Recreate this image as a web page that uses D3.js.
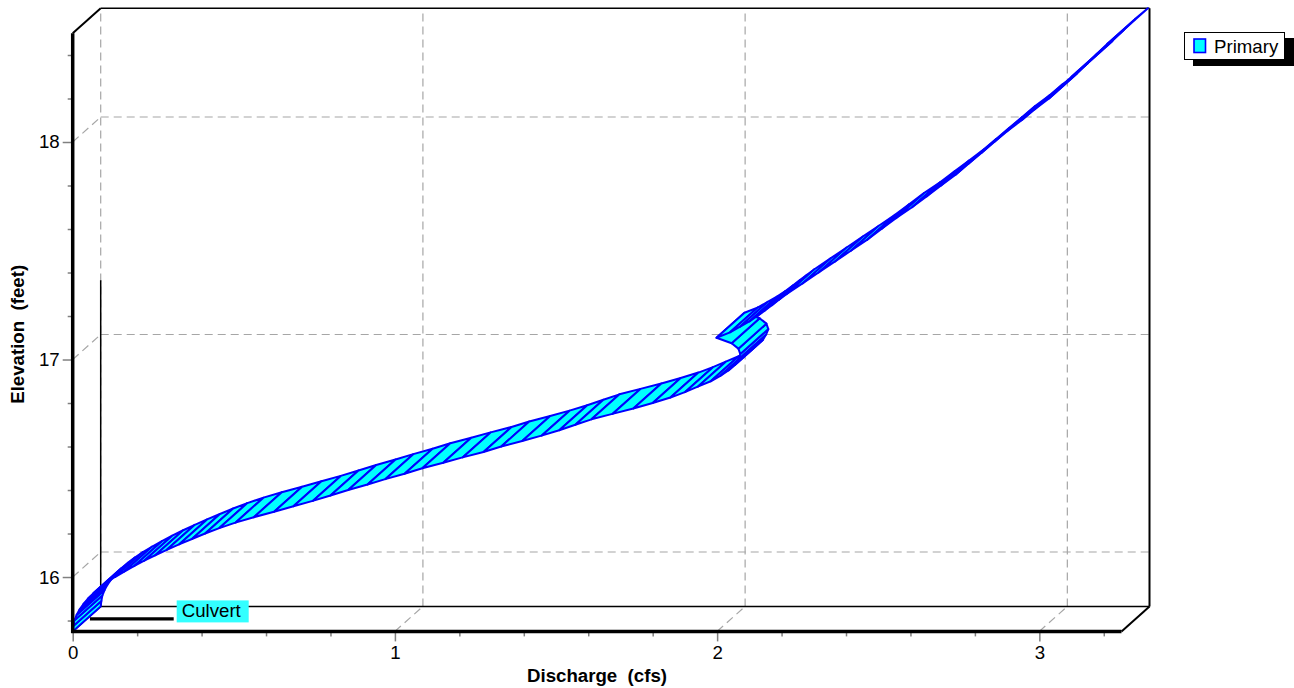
<!DOCTYPE html>
<meta charset="utf-8">
<script src="https://d3js.org/d3.v7.min.js"></script>
<style>
  body { margin: 0; background: #fff; }
  text { font-family: "Liberation Sans", Arial, sans-serif; }
</style>
<div id="chart"></div>
<script>
  // rating curve (elevation in feet, discharge in cfs)
  var elevation = [
    15.750, 15.775, 15.800, 15.825, 15.850, 15.875, 15.900, 15.925, 15.950, 15.975,
    16.000, 16.025, 16.050, 16.075, 16.100, 16.125, 16.150, 16.175, 16.200, 16.225,
    16.250, 16.275, 16.300, 16.325, 16.350, 16.375, 16.400, 16.425, 16.450, 16.475,
    16.500, 16.525, 16.550, 16.575, 16.600, 16.625, 16.650, 16.675, 16.700, 16.725,
    16.750, 16.775, 16.800, 16.825, 16.850, 16.875, 16.900, 16.925, 16.950, 16.975,
    17.000, 17.025, 17.050, 17.075, 17.100, 17.125, 17.150, 17.175, 17.200, 17.225,
    17.250, 17.275, 17.300,
    17.35, 17.40, 17.45, 17.50, 17.55, 17.60, 17.65, 17.70, 17.75, 17.80,
    17.85, 17.90, 17.95, 18.00, 18.05, 18.10, 18.15, 18.20, 18.25, 18.30,
    18.35, 18.40, 18.45, 18.50
  ];
  var discharge = [
    0.000, 0.002, 0.005, 0.012, 0.021, 0.033, 0.047, 0.064, 0.084, 0.106,
    0.131, 0.160, 0.190, 0.222, 0.256, 0.292, 0.330, 0.370, 0.411, 0.455,
    0.505, 0.562, 0.625, 0.685, 0.745, 0.800, 0.855, 0.915, 0.970, 1.030,
    1.085, 1.150, 1.210, 1.275, 1.330, 1.395, 1.455, 1.510, 1.560, 1.610,
    1.675, 1.740, 1.800, 1.855, 1.900, 1.940, 1.980, 2.010, 2.035, 2.055,
    2.065, 2.072, 2.066, 2.045, 1.998, 2.040, 2.070, 2.100, 2.125, 2.148,
    2.170, 2.192, 2.215,
    2.265, 2.315, 2.365, 2.415, 2.465, 2.510, 2.555, 2.605, 2.650, 2.695,
    2.740, 2.780, 2.820, 2.860, 2.900, 2.945, 2.985, 3.030, 3.065, 3.100,
    3.140, 3.175, 3.210, 3.250
  ];

  // axis ticks
  var xMajor = [0, 1, 2, 3];
  var xMinor = [0.2, 0.4, 0.6, 0.8, 1.2, 1.4, 1.6, 1.8, 2.2, 2.4, 2.6, 2.8, 3.2];
  var yMajor = [16, 17, 18];
  var yMinor = [15.8, 16.2, 16.4, 16.6, 16.8, 17.2, 17.4, 17.6, 17.8, 18.2, 18.4];

  var seriesName = "Primary";
  var deviceName = "Culvert";
  var deviceInvert = 15.75;
  var deviceSpan = [0.01, 0.27];

  var width = 1294, height = 688;
  var dx = 28, dy = -25;   // depth of the 3D box

  var svg = d3.select("#chart")
    .append("svg")
    .attr("width", width)
    .attr("height", height);

  var x = d3.scaleLinear().domain([0, 3.255]).range([72.7, 1121.5]);
  var y = d3.scaleLinear().domain([15.75, 18.5]).range([631.4, 33.25]);

  var x0 = x.range()[0], x1 = x.range()[1];
  var y0 = y.range()[0], y1 = y.range()[1];

  function line(g, a, b, stroke, w, dash) {
    g.append("line")
      .attr("x1", a[0]).attr("y1", a[1])
      .attr("x2", b[0]).attr("y2", b[1])
      .attr("stroke", stroke)
      .attr("stroke-width", w)
      .attr("stroke-dasharray", dash || null);
  }

  // grid on the back wall, the floor and the side wall
  var grid = svg.append("g");
  var gridColor = "#a6a6a6", gridDash = "8,5";
  xMajor.forEach(function(v) {
    line(grid, [x(v) + dx, y0 + dy], [x(v) + dx, y1 + dy], gridColor, 1.2, gridDash);
    if (v > 0) line(grid, [x(v), y0], [x(v) + dx, y0 + dy], gridColor, 1.2, gridDash);
  });
  yMajor.forEach(function(v) {
    line(grid, [x0 + dx, y(v) + dy], [x1 + dx, y(v) + dy], gridColor, 1.2, gridDash);
    line(grid, [x0, y(v)], [x0 + dx, y(v) + dy], gridColor, 1.2, gridDash);
  });

  // box frame
  var frame = svg.append("g");
  line(frame, [x0 + dx, y1 + dy], [x1 + dx, y1 + dy], "#000", 1.5);
  line(frame, [x1 + dx, y1 + dy], [x1 + dx, y0 + dy], "#000", 2);
  line(frame, [x0 + dx, y0 + dy], [x1 + dx, y0 + dy], "#000", 1.5);
  line(frame, [x1, y0], [x1 + dx, y0 + dy], "#000", 2);
  line(frame, [x0, y1], [x0 + dx, y1 + dy], "#000", 2);
  line(frame, [x0, y0], [x0 + dx, y0 + dy], "#000", 1.5);
  line(frame, [x0 + dx, y0 + dy], [x0 + dx, y(17.25) + dy], "#000", 1.5);

  // axes
  var xAxis = svg.append("g").attr("transform", "translate(0," + y0 + ")");
  xAxis.call(d3.axisBottom(x).tickValues(xMajor).tickSize(10).tickPadding(4).tickFormat(d3.format("d")));
  var xAxisMinor = svg.append("g").attr("transform", "translate(0," + y0 + ")");
  xAxisMinor.call(d3.axisBottom(x).tickValues(xMinor).tickSize(5).tickFormat(""));

  var yAxis = svg.append("g").attr("transform", "translate(" + x0 + ",0)");
  yAxis.call(d3.axisLeft(y).tickValues(yMajor).tickSize(10).tickPadding(3).tickFormat(d3.format("d")));
  var yAxisMinor = svg.append("g").attr("transform", "translate(" + x0 + ",0)");
  yAxisMinor.call(d3.axisLeft(y).tickValues(yMinor).tickSize(5).tickFormat(""));

  svg.selectAll(".domain").remove();
  svg.selectAll(".tick line").attr("stroke", "#808080").attr("stroke-width", 1.5);
  svg.selectAll(".tick text")
    .attr("fill", "#000")
    .style("font-size", "18.67px")
    .style("font-family", "'Liberation Sans', Arial, sans-serif");

  // the rating curve as a 3D ribbon
  var pts = elevation.map(function(e, i) { return [x(discharge[i]), y(e)]; });
  var ribbon = svg.append("g");
  ribbon.selectAll("polygon")
    .data(d3.range(pts.length - 1))
    .enter()
    .append("polygon")
    .attr("points", function(i) {
      var a = pts[i], b = pts[i + 1];
      return [a, b, [b[0] + dx, b[1] + dy], [a[0] + dx, a[1] + dy]]
        .map(function(p) { return p[0].toFixed(2) + "," + p[1].toFixed(2); }).join(" ");
    })
    .attr("fill", "#00ffff")
    .attr("stroke", "#0000ff")
    .attr("stroke-width", 2)
    .attr("stroke-linejoin", "round");

  // front axis lines on top
  line(svg, [x0, y1], [x0, y0 + 1.5], "#000", 3.5);
  line(svg, [x0 - 1.5, y0], [x1, y0], "#000", 3.5);

  // device marker
  var my = y(deviceInvert) + dy / 2;
  line(svg, [x(deviceSpan[0]) + dx / 2, my], [x(deviceSpan[1]) + dx / 2, my], "#000", 3.3);
  var lx = x(deviceSpan[1]) + dx / 2 + 3;
  svg.append("rect")
    .attr("x", lx).attr("y", my - 18.5)
    .attr("width", 72).attr("height", 22)
    .attr("fill", "#33ffff");
  svg.append("text")
    .attr("x", lx + 5).attr("y", my - 1.5)
    .style("font-size", "18.67px")
    .text(deviceName);

  // axis titles
  svg.append("text")
    .attr("transform", "translate(24," + ((y0 + y1) / 2 + 2) + ") rotate(-90)")
    .attr("text-anchor", "middle")
    .style("font-size", "18.67px")
    .style("font-weight", "bold")
    .style("white-space", "pre")
    .text("Elevation  (feet)");

  svg.append("text")
    .attr("x", 597)
    .attr("y", 682)
    .attr("text-anchor", "middle")
    .style("font-size", "18.67px")
    .style("font-weight", "bold")
    .style("white-space", "pre")
    .text("Discharge  (cfs)");

  // legend
  var legend = svg.append("g");
  legend.append("rect")
    .attr("x", 1193).attr("y", 38).attr("width", 101).attr("height", 28)
    .attr("fill", "#000");
  legend.append("rect")
    .attr("x", 1184.5).attr("y", 32.5).attr("width", 100).attr("height", 27)
    .attr("fill", "#fff").attr("stroke", "#000").attr("stroke-width", 1);
  legend.append("rect")
    .attr("x", 1194).attr("y", 39).attr("width", 11.5).attr("height", 13.5)
    .attr("fill", "#00ffff").attr("stroke", "#0000ff").attr("stroke-width", 1.6);
  legend.append("text")
    .attr("x", 1214).attr("y", 53)
    .style("font-size", "18.67px")
    .text(seriesName);
</script>
